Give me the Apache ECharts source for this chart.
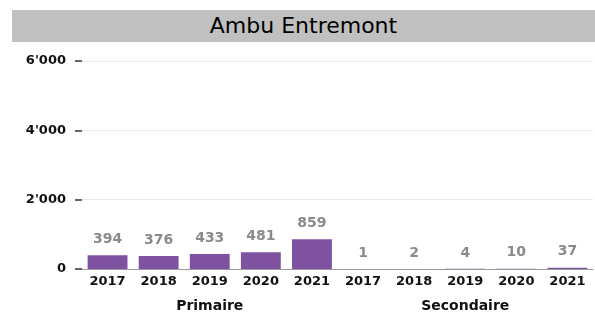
<!DOCTYPE html>
<html>
<head>
<meta charset="utf-8">
<script src="https://cdn.jsdelivr.net/npm/echarts@6/dist/echarts.min.js"></script>
<style>
  html, body { margin: 0; padding: 0; background: #fff; }
  #titleBar {
    position: absolute; left: 12px; top: 10px; width: 583px; height: 32px;
    background: #c0c0c0; text-align: center; line-height: 32px;
    font-family: "DejaVu Sans", Arial, sans-serif; font-size: 22px; color: #000;
  }
  #chart { width: 595px; height: 313px; }
</style>
</head>
<body>
<div id="chart"></div>
<div id="titleBar">Ambu Entremont</div>
<script>
let years = ['2017', '2018', '2019', '2020', '2021', '2017', '2018', '2019', '2020', '2021'];
let groups = ['Primaire', 'Secondaire'];
let values = [394, 376, 433, 481, 859, 1, 2, 4, 10, 37];
let yTicks = [0, 2000, 4000, 6000];

let myEchart = echarts.init(document.getElementById('chart'));

function fmt(v) {
  return String(v).replace(/\B(?=(\d{3})+(?!\d))/g, "'");
}

let font = '"DejaVu Sans", Arial, sans-serif';

let option = {
  animation: false,
  grid: { left: 82, right: 2, top: 61, bottom: 44 },
  xAxis: [
    {
      type: 'category',
      data: years,
      axisLine: { lineStyle: { color: '#999', width: 1 } },
      axisTick: { show: false },
      axisLabel: { color: '#111', fontWeight: 'bold', fontSize: 13, fontFamily: font, margin: 6, interval: 0 }
    },
    {
      type: 'category',
      data: groups,
      position: 'bottom',
      offset: 24,
      axisLine: { show: false },
      axisTick: { show: false },
      axisLabel: { color: '#111', fontWeight: 'bold', fontSize: 14, fontFamily: font, margin: 6 }
    }
  ],
  yAxis: {
    type: 'value',
    min: yTicks[0],
    max: yTicks[yTicks.length - 1],
    interval: 2000,
    axisLine: { show: false },
    axisTick: { show: true, length: 7, lineStyle: { color: '#333', width: 1.5 } },
    splitLine: { lineStyle: { color: '#e8e8e8' } },
    axisLabel: {
      color: '#111', fontWeight: 'bold', fontSize: 13, fontFamily: font, margin: 16,
      formatter: function (v) { return fmt(v); }
    }
  },
  series: [
    {
      type: 'bar',
      data: values,
      barCategoryGap: '22%',
      itemStyle: { color: '#7e52a0' },
      label: {
        show: true,
        position: 'top',
        distance: 9,
        color: '#8a8a8a',
        fontWeight: 'bold',
        fontSize: 14,
        fontFamily: font,
        formatter: function (p) { return fmt(p.value); }
      }
    }
  ]
};

myEchart.setOption(option);
</script>
</body>
</html>
